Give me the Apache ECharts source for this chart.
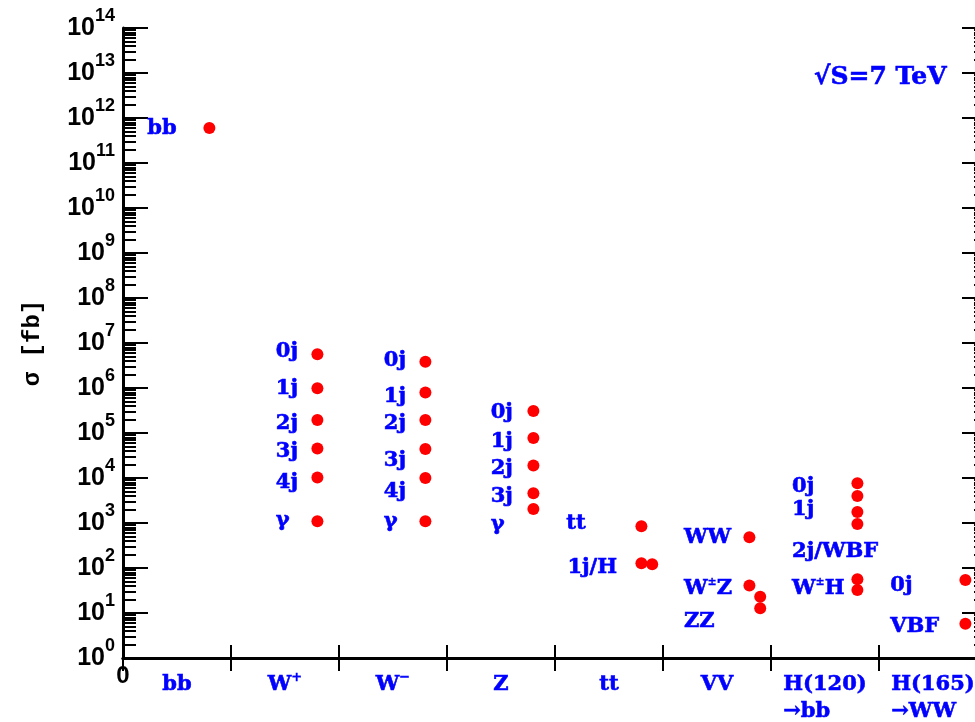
<!DOCTYPE html>
<html>
<head>
<meta charset="utf-8">
<script src="https://cdn.jsdelivr.net/npm/echarts@6/dist/echarts.min.js"></script>
<style>
  html, body { margin: 0; padding: 0; background: #ffffff; }
  #chart { width: 975px; height: 722px; }
</style>
</head>
<body>
<div id="chart"></div>
<script>
// Process groups along the horizontal axis
const categories = ['bb', 'W+', 'W-', 'Z', 'tt', 'VV', 'H(120)\n→bb', 'H(165)\n→WW'];

// Decade exponents shown on the σ axis (10^0 … 10^14)
const decades = [0, 1, 2, 3, 4, 5, 6, 7, 8, 9, 10, 11, 12, 13, 14];

// Cross sections in fb, with their position inside each process group
const sigmaBB = [6.0e11];
const xBB = [0.8];
const sigmaWplus = [5.6e6, 9.9e5, 1.95e5, 4.5e4, 1.02e4, 1.1e3];
const xWplus = [1.8, 1.8, 1.8, 1.8, 1.8, 1.8];
const sigmaWminus = [3.85e6, 7.9e5, 1.95e5, 4.4e4, 1.0e4, 1.1e3];
const xWminus = [2.8, 2.8, 2.8, 2.8, 2.8, 2.8];
const sigmaZ = [3.1e5, 7.7e4, 1.9e4, 4.6e3, 2.05e3];
const xZ = [3.8, 3.8, 3.8, 3.8, 3.8];
const sigmaTT = [850, 127, 121];
const xTT = [4.8, 4.8, 4.9];
const sigmaVV = [480, 41, 23, 12.7];
const xVV = [5.8, 5.8, 5.9, 5.9];
const sigmaH120 = [7.6e3, 4.0e3, 1.75e3, 950, 56, 32.5];
const xH120 = [6.8, 6.8, 6.8, 6.8, 6.8, 6.8];
const sigmaH165 = [54, 5.8];
const xH165 = [7.8, 7.8];

// Process / jet-multiplicity annotations (x in group units, y as log10 σ)
const noteText = ['bb',
  '0j', '1j', '2j', '3j', '4j', 'γ',
  '0j', '1j', '2j', '3j', '4j', 'γ',
  '0j', '1j', '2j', '3j', 'γ',
  'tt', '1j/H',
  'WW', 'W±Z', 'ZZ',
  '0j', '1j', '2j/WBF', 'W±H',
  '0j', 'VBF'];
const noteX = [0.22,
  1.41, 1.41, 1.41, 1.41, 1.41, 1.41,
  2.41, 2.41, 2.41, 2.41, 2.41, 2.41,
  3.40, 3.40, 3.40, 3.40, 3.40,
  4.10, 4.11,
  5.19, 5.19, 5.19,
  6.19, 6.19, 6.19, 6.19,
  7.10, 7.10];
const noteLog = [11.76,
  6.80, 5.98, 5.22, 4.58, 3.91, 3.06,
  6.60, 5.82, 5.20, 4.38, 3.71, 3.04,
  5.45, 4.82, 4.22, 3.58, 2.97,
  2.98, 2.00,
  2.67, 1.54, 0.80,
  3.82, 3.31, 2.36, 1.54,
  1.60, 0.71];

const BLUE = '#0000ff';
const RED = '#ff0000';
const SERIF = '"DejaVu Serif", serif';

// Minor tick positions (2..9 × 10^n) in log10 units
const minorTicks = [];
decades.slice(0, -1).forEach(function (d) {
  for (let k = 2; k <= 9; k++) minorTicks.push(d + Math.log10(k));
});

// Dots: every measured cross section placed on the log10 scale
const groups = [
  [xBB, sigmaBB], [xWplus, sigmaWplus], [xWminus, sigmaWminus], [xZ, sigmaZ],
  [xTT, sigmaTT], [xVV, sigmaVV], [xH120, sigmaH120], [xH165, sigmaH165]
];
const dots = [];
groups.forEach(function (g) {
  g[1].forEach(function (s, i) { dots.push([g[0][i], Math.log10(s)]); });
});

const notes = noteText.map(function (t, i) { return [noteX[i], noteLog[i], t]; });

// Blue serif text, slightly thickened with a matching outline
function blueText(size, extra) {
  return Object.assign({
    fontFamily: SERIF, fontWeight: 'bold', fontSize: size, color: BLUE,
    textBorderColor: BLUE, textBorderWidth: 0.6
  }, extra || {});
}

const blueRich = {
  m: blueText(21, { lineHeight: 27 }),
  l: blueText(21, { lineHeight: 27, align: 'left' }),
  sup: blueText(13, { lineHeight: 12, verticalAlign: 'top', textBorderWidth: 0.4 })
};

const noteRich = {
  n: blueText(21, { lineHeight: 24 }),
  sup: blueText(11, { lineHeight: 11, verticalAlign: 'top', textBorderWidth: 0.3 })
};

const axisLineStyle = { color: '#000', width: 3 };
const tickStyle = { color: '#000', width: 2 };

const option = {
  animation: false,
  backgroundColor: '#ffffff',
  title: {
    text: '√S=7 TeV',
    left: 814,
    top: 65,
    padding: 0,
    textStyle: blueText(25)
  },
  grid: { left: 123, top: 28, width: 864, height: 630, containLabel: false, outerBoundsMode: 'none' },
  xAxis: [
    {
      type: 'value', position: 'bottom', min: 0, max: 8, interval: 1,
      axisLine: { show: true, lineStyle: axisLineStyle },
      axisTick: { show: true, inside: true, length: 13, lineStyle: tickStyle },
      splitLine: { show: false },
      axisLabel: {
        show: true, margin: 6,
        formatter: function (v) { return v === 0 ? '0' : ''; },
        fontFamily: '"Liberation Sans", sans-serif', fontWeight: 'bold', fontSize: 24, color: '#000', lineHeight: 24
      }
    },
    {
      type: 'value', position: 'top', min: 0, max: 8, interval: 1,
      axisLine: { show: true, lineStyle: axisLineStyle },
      axisTick: { show: true, inside: true, length: 13, lineStyle: tickStyle },
      splitLine: { show: false },
      axisLabel: { show: false }
    },
    {
      type: 'category', position: 'bottom', data: categories, boundaryGap: true,
      axisLine: { show: false }, axisTick: { show: false }, splitLine: { show: false },
      axisLabel: {
        show: true, interval: 0, margin: 13,
        formatter: function (v) {
          if (v === 'W+') return '{m|W}{sup|+}';
          if (v === 'W-') return '{m|W}{sup|−}';
          const parts = v.split('\n');
          if (parts.length > 1) return '{m|' + parts[0] + '}\n{l|' + parts[1] + '}';
          return '{m|' + v + '}';
        },
        rich: blueRich
      }
    }
  ],
  yAxis: [
    {
      type: 'value', position: 'left', min: 0, max: 14, interval: 1,
      name: 'σ [fb]', nameLocation: 'middle', nameGap: 78, nameRotate: 90,
      nameTextStyle: { fontFamily: '"Liberation Mono", monospace', fontWeight: 'bold', fontSize: 24, color: '#000' },
      axisLine: { show: true, lineStyle: axisLineStyle },
      axisTick: { show: true, inside: true, length: 25, lineStyle: tickStyle },
      splitLine: { show: false },
      axisLabel: {
        show: true, margin: 8,
        formatter: function (v) { return '{b|10}{s|' + v + '}'; },
        rich: {
          b: { fontFamily: '"Liberation Sans", sans-serif', fontWeight: 'bold', fontSize: 25, color: '#000', lineHeight: 41 },
          s: { fontFamily: '"Liberation Sans", sans-serif', fontWeight: 'bold', fontSize: 18, color: '#000', lineHeight: 18, verticalAlign: 'top' }
        }
      }
    },
    {
      type: 'value', position: 'left', min: 0, max: 14,
      axisLine: { show: false },
      axisTick: { show: true, inside: true, length: 13, lineStyle: tickStyle, customValues: minorTicks },
      splitLine: { show: false },
      axisLabel: { show: false }
    },
    {
      type: 'value', position: 'right', min: 0, max: 14, interval: 1,
      axisLine: { show: true, lineStyle: axisLineStyle },
      axisTick: { show: true, inside: true, length: 25, lineStyle: tickStyle },
      splitLine: { show: false },
      axisLabel: { show: false }
    },
    {
      type: 'value', position: 'right', min: 0, max: 14,
      axisLine: { show: false },
      axisTick: { show: true, inside: true, length: 13, lineStyle: tickStyle, customValues: minorTicks },
      splitLine: { show: false },
      axisLabel: { show: false }
    }
  ],
  series: [
    {
      type: 'scatter', xAxisIndex: 0, yAxisIndex: 0,
      symbol: 'circle', symbolSize: 12, silent: true,
      itemStyle: { color: RED, opacity: 1 },
      emphasis: { disabled: true },
      data: dots
    },
    {
      type: 'scatter', xAxisIndex: 0, yAxisIndex: 0,
      symbolSize: 1, silent: true,
      itemStyle: { color: 'rgba(0,0,0,0)', opacity: 1 },
      emphasis: { disabled: true },
      label: {
        show: true, position: 'right', distance: 0, align: 'left', verticalAlign: 'middle',
        formatter: function (p) {
          return '{n|' + p.data[2].replace('±', '}{sup|±}{n|') + '}';
        },
        rich: noteRich
      },
      data: notes
    }
  ]
};

const chart = echarts.init(document.getElementById('chart'), null, { renderer: 'canvas' });
chart.setOption(option);
</script>
</body>
</html>
